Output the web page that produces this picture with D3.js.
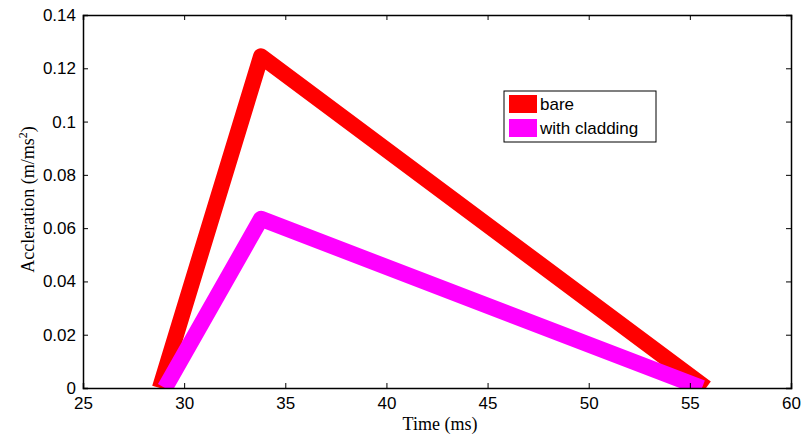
<!DOCTYPE html>
<html><head><meta charset="utf-8">
<script src="https://cdn.jsdelivr.net/npm/d3@7"></script>
<style>body{margin:0;background:#fff}</style>
</head><body>
<svg id="c" width="803" height="436"></svg>
<script>
const seriesNames = ["bare", "with cladding"];
const seriesColors = ["#ff0000", "#ff00ff"];
const bareTime = [28.8, 33.8, 55.8];
const bareAccel = [0, 0.1245, 0];
const cladTime = [29.05, 33.8, 55.6];
const cladAccel = [0, 0.0635, 0];
const xTicks = [25, 30, 35, 40, 45, 50, 55, 60];
const yTicks = [0, 0.02, 0.04, 0.06, 0.08, 0.1, 0.12, 0.14];

const svg = d3.select("#c");
const m = {l: 83, r: 791, t: 15, b: 388};
const x = d3.scaleLinear().domain([25, 60]).range([m.l, m.r]);
const y = d3.scaleLinear().domain([0, 0.14]).range([m.b, m.t]);

svg.append("defs").append("clipPath").attr("id", "clip")
  .append("rect").attr("x", m.l).attr("y", m.t).attr("width", m.r - m.l).attr("height", m.b - m.t);

const line = d3.line().x(d => x(d[0])).y(d => y(d[1]));
const data = [d3.zip(bareTime, bareAccel), d3.zip(cladTime, cladAccel)];
svg.append("g").attr("clip-path", "url(#clip)").selectAll("path").data(data).join("path")
  .attr("d", line).attr("fill", "none")
  .attr("stroke", (d, i) => seriesColors[i]).attr("stroke-width", 16)
  .attr("stroke-linejoin", "round").attr("stroke-linecap", "butt");

const font = "'Liberation Sans', Arial, sans-serif";
const serif = "'Liberation Serif', 'Times New Roman', serif";
// axes
const gx = svg.append("g").attr("transform", `translate(0,${m.b})`)
  .call(d3.axisBottom(x).tickValues(xTicks).tickSize(-5).tickPadding(9).tickFormat(d3.format("d")));
const gxt = svg.append("g").attr("transform", `translate(0,${m.t})`)
  .call(d3.axisTop(x).tickValues(xTicks).tickSize(-5).tickFormat(""));
const gy = svg.append("g").attr("transform", `translate(${m.l},0)`)
  .call(d3.axisLeft(y).tickValues(yTicks).tickSize(-5).tickPadding(7).tickFormat(d => d === 0 ? "0" : String(+d.toFixed(2))));
const gyr = svg.append("g").attr("transform", `translate(${m.r},0)`)
  .call(d3.axisRight(y).tickValues(yTicks).tickSize(-5).tickFormat(""));
[gx, gxt, gy, gyr].forEach(g => {
  g.select(".domain").attr("stroke", "#000").attr("stroke-width", 1.5);
  g.selectAll(".tick line").attr("stroke", "#000");
  g.selectAll("text").attr("font-family", font).attr("font-size", 17).attr("fill", "#000");
});

// axis labels
svg.append("text").attr("x", 440).attr("y", 430).attr("text-anchor", "middle")
  .attr("font-family", serif).attr("font-size", 18).text("Time (ms)");
const yl = svg.append("text").attr("transform", `translate(34,${(m.t + m.b) / 2 - 2}) rotate(-90)`)
  .attr("text-anchor", "middle").attr("font-family", serif).attr("font-size", 18);
yl.append("tspan").text("Accleration (m/ms");
yl.append("tspan").attr("dy", -7).attr("font-size", 12).text("2");
yl.append("tspan").attr("dy", 7).text(")");

// legend
const lg = svg.append("g");
lg.append("rect").attr("x", 504).attr("y", 91).attr("width", 152).attr("height", 51)
  .attr("fill", "#fff").attr("stroke", "#000").attr("stroke-width", 1);
seriesNames.forEach((n, i) => {
  lg.append("rect").attr("x", 509).attr("y", 95 + i * 24).attr("width", 28).attr("height", 18).attr("fill", seriesColors[i]);
  lg.append("text").attr("x", 540).attr("y", 110 + i * 24).attr("font-family", font).attr("font-size", 17).text(n);
});
</script>
</body></html>
